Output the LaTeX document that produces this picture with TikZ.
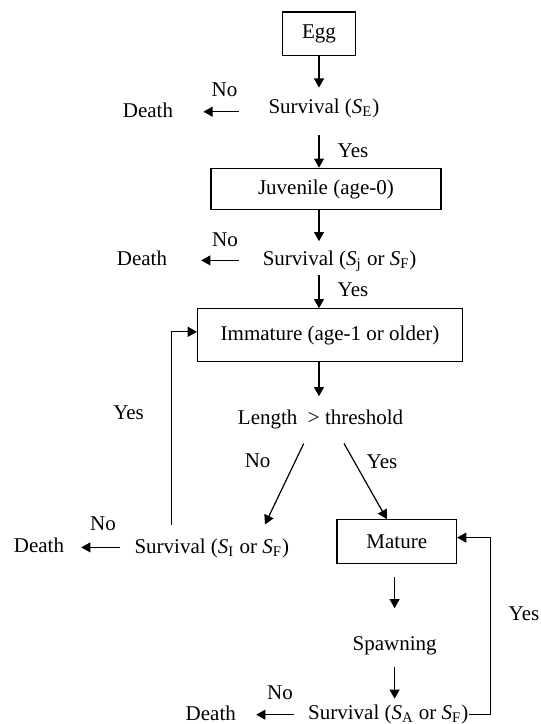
\documentclass[tikz,border=0pt]{standalone}
\usepackage{fontspec}
\setmainfont{Liberation Serif}
\usetikzlibrary{arrows.meta}

\begin{document}
\begin{tikzpicture}[
    x=0.5pt, y=-0.5pt,
    every node/.style={font=\fontsize{10.5}{12.6}\selectfont},
    stage/.style={draw,line width=0.6pt,inner sep=0pt},
    txt/.style={inner sep=0pt,anchor=base,text height=7.2pt,text depth=1.9pt},
    arr/.style={-{Triangle[length=4.6pt,width=5pt]},line width=0.6pt},
  ]
  \useasboundingbox (0,0) rectangle (541,724);

  % Egg
  \node[stage,minimum width=36.75pt,minimum height=21.6pt] (egg) at (319,33.6) {Egg};
  \node[txt] (surve) at (324,113) {Survival (\textit{S}\textsubscript{E})};
  \node[txt] (deathe) at (148,117) {Death};
  \node[txt] (noe) at (224.5,96.7) {No};
  \node[txt] (yese) at (353,157) {Yes};
  \draw[arr,shorten >=5.3pt] (egg.south) -- (egg.south |- surve.north);
  \draw[arr,shorten <=14.5pt,shorten >=15pt] (deathe.east -| surve.west) -- (deathe.east);

  % Juvenile
  \node[stage,minimum width=115pt,minimum height=20.7pt] (juv) at (326,189) {Juvenile (age-0)};
  \draw[arr,shorten <=8.9pt] (surve.south -| egg) -- (juv.north -| egg);
  \node[txt] (survj) at (339.6,265) {Survival (\textit{S}\textsubscript{j} or \textit{S}\textsubscript{F})};
  \node[txt] (deathj) at (142,265.7) {Death};
  \node[txt] (noj) at (225,246.7) {No};
  \node[txt] (yesj) at (353,296.6) {Yes};
  \draw[arr,shorten >=4.5pt] (juv.south -| egg) -- (survj.north -| egg);
  \draw[arr,shorten <=11.9pt,shorten >=16.9pt] (deathj.east -| survj.west) -- (deathj.east);

  % Immature
  \node[stage,minimum width=132.5pt,minimum height=26.2pt] (imm) at (330,335) {Immature (age-1 or older)};
  \draw[arr,shorten <=3pt] (survj.south -| egg) -- (imm.north -| egg);
  \node[txt] (len) at (320.6,424) {Length\ \ > threshold};
  \draw[arr,shorten >=6.5pt] (imm.south -| egg) -- (len.north -| egg);
  \node[txt] (nolen) at (257.6,467.4) {No};
  \node[txt] (yeslen) at (382,468) {Yes};

  % Survival of immature fish
  \node[txt] (survi) at (211.8,553) {Survival (\textit{S}\textsubscript{I} or \textit{S}\textsubscript{F})};
  \node[txt] (deathi) at (39,552.7) {Death};
  \node[txt] (noi) at (103,530) {No};
  \node[txt] (yesi) at (128.6,419) {Yes};
  \draw[arr] ([xshift=-8.45pt,yshift=-7.7pt]len.south) -- ([xshift=26.6pt,yshift=6.9pt]survi.north);
  \draw[arr,shorten <=7.2pt,shorten >=8.4pt] (deathi.east -| survi.west) -- (deathi.east);
  \draw[arr] ([xshift=-20pt,yshift=6.8pt]survi.north) |- ([yshift=1.6pt]imm.west);

  % Mature
  \node[stage,minimum width=59.75pt,minimum height=21.9pt] (mat) at (396.8,541.6) {Mature};
  \draw[arr] ([xshift=11.7pt,yshift=-7.6pt]len.south) -- ([xshift=-5pt]mat.north);
  \node[txt] (spawn) at (394.6,650) {Spawning};
  \draw[arr,shorten <=6.2pt,shorten >=13.5pt] (mat.south -| spawn.south) -- (spawn.north);

  % Survival of adults
  \node[txt] (surva) at (388.3,719.5) {Survival (\textit{S}\textsubscript{A} or \textit{S}\textsubscript{F})};
  \node[txt] (deatha) at (210.8,720) {Death};
  \node[txt] (noa) at (280,699.5) {No};
  \node[txt,anchor=base west] (yesa) at (508.3,620) {Yes};
  \draw[arr,shorten <=6.5pt,shorten >=3pt] (spawn.south) -- (spawn.south |- surva.north);
  \draw[arr,shorten <=6.9pt,shorten >=10pt] (deatha.east -| surva.west) -- (deatha.east);
  \draw[arr] (surva.east) -- ++(22,0) |- ([yshift=2pt]mat.east);
\end{tikzpicture}
\end{document}
